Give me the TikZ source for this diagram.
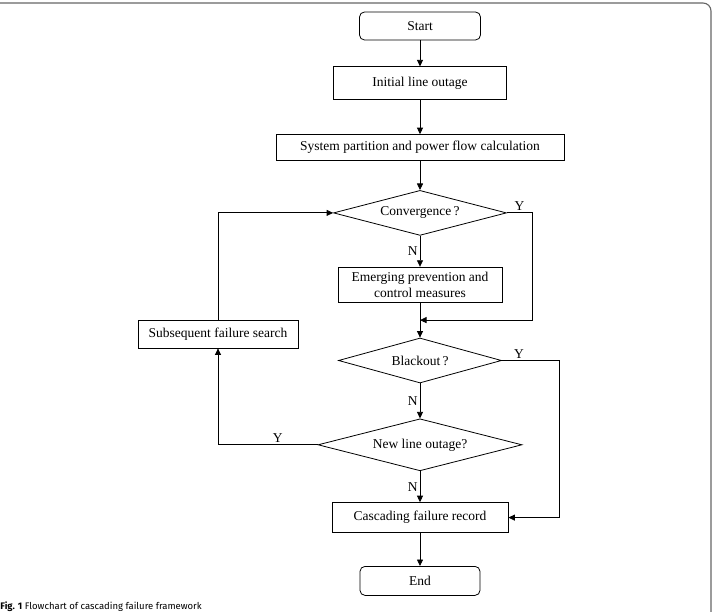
\documentclass[tikz,border=0pt]{standalone}
\usepackage{fontspec}
\setmainfont{Liberation Serif}
\newfontfamily\capfont{Fira Sans}
\usepackage{tikz}
\usetikzlibrary{arrows.meta,positioning,shapes.geometric,calc}

\begin{document}
\begin{tikzpicture}[x=1pt, y=-1pt, line width=0.8pt, every node/.style={font=\fontsize{13.5}{15.5}\selectfont}, box/.style={draw,align=center,inner sep=2pt}, term/.style={box,rounded corners=5pt,minimum width=121pt,minimum height=28pt}, dec/.style={draw,diamond,aspect=3.5,inner sep=1pt}, lbl/.style={inner sep=2pt}, arr/.style={-{Triangle[length=6.5pt,width=6pt]}}]
\useasboundingbox (0,0) rectangle (713,612);
\draw[gray!80!black, line width=1.1pt, rounded corners=8pt] (0,3) -- (711,3) -- (711,614);
\node[term] (start) at (420,26) {Start};
\node[box,minimum width=173pt,minimum height=33pt,below=26pt of start] (init) {Initial line outage};
\node[box,minimum width=288pt,minimum height=26pt,below=34pt of init] (sys) {System partition and power flow calculation};
\node[dec,minimum width=173pt,minimum height=45pt,below=29pt of sys] (conv) {Convergence\,?};
\node[box,minimum width=164pt,minimum height=35pt,below=31pt of conv] (emerg) {Emerging prevention and\\control measures};
\node[dec,minimum width=163pt,minimum height=45pt,below=35pt of emerg] (black) {Blackout\,?};
\node[dec,minimum width=204pt,minimum height=52pt,below=35pt of black] (newl) {New line outage?};
\node[box,minimum width=176pt,minimum height=30pt,below=31pt of newl] (casc) {Cascading failure record};
\node[term,minimum width=120pt,minimum height=29pt,below=33pt of casc] (end) {End};
\node[box,minimum width=160pt,minimum height=28pt] (subs) at (218,334) {Subsequent failure search};
\coordinate (join) at ($(emerg.south)!0.5!(black.north)$);
\node[anchor=base west,inner sep=0pt,font=\capfont\fontsize{9.5}{11}\selectfont] (cap) at (0,609) {\textbf{Fig. 1} Flowchart of cascading failure framework};
\draw[arr] (start) -- (init);
\draw[arr] (init) -- (sys);
\draw[arr] (sys) -- (conv);
\draw[arr] (conv) -- node[lbl,left]{N} (emerg);
\draw[arr] (emerg) -- (black);
\draw[arr] (conv.east) -- node[lbl,above]{Y} ++(25,0) |- (join);
\draw[arr] (black) -- node[lbl,left]{N} (newl);
\draw[arr] (black.east) -- node[lbl,above,pos=0.3]{Y} ++(57,0) |- (casc.east);
\draw[arr] (newl) -- node[lbl,left]{N} (casc);
\draw[arr] (newl.west) -| node[lbl,above,pos=0.2]{Y} (subs.south);
\draw[arr] (subs.north) |- (conv.west);
\draw[arr] (casc) -- (end);
\end{tikzpicture}
\end{document}
